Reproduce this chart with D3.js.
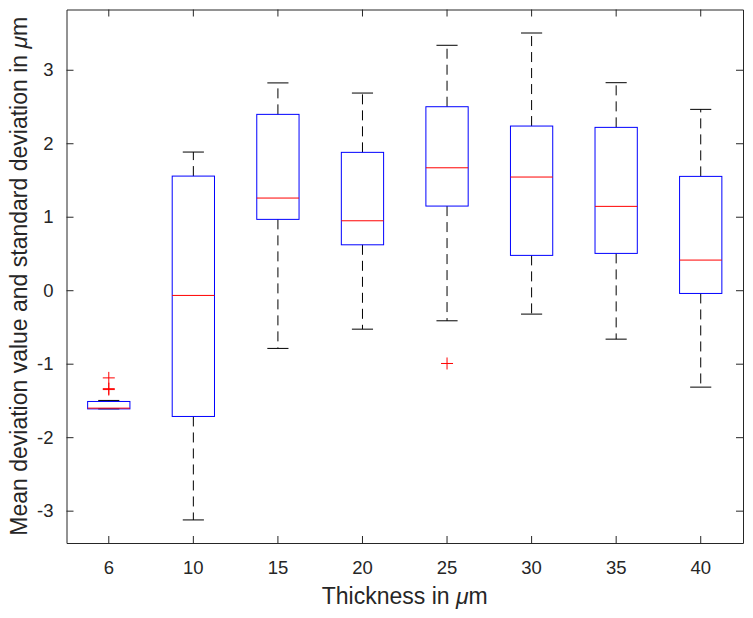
<!DOCTYPE html>
<html>
<head>
<meta charset="utf-8">
<script src="https://cdn.jsdelivr.net/npm/d3@7"></script>
<style>
  body { margin: 0; background: #fff; }
  svg { display: block; }
</style>
</head>
<body>
<div id="chart"></div>
<script>
// Boxplot data (thickness in µm)
const categories = ["6", "10", "15", "20", "25", "30", "35", "40"];
const whiskerLow  = [-1.615, -3.126, -0.792, -0.530, -0.416, -0.325, -0.666, -1.319];
const q1          = [-1.615, -1.718,  0.964,  0.618,  1.145,  0.474,  0.501, -0.044];
const median      = [-1.605, -0.071,  1.254,  0.945,  1.666,  1.540,  1.141,  0.410];
const q3          = [-1.514,  1.553,  2.393,  1.876,  2.497,  2.234,  2.216,  1.549];
const whiskerHigh = [-1.500,  1.880,  2.821,  2.683,  3.333,  3.500,  2.824,  2.461];
const outlierCat  = ["6", "6", "6", "25"];
const outlierVal  = [-1.193, -1.340, -1.352, -0.997];
const yTicks = [-3, -2, -1, 0, 1, 2, 3];

const width = 753, height = 618;
const plot = { left: 66.5, right: 743, top: 9.5, bottom: 543 };
const axisColor = "#262626";
const font = "'Liberation Sans', Arial, sans-serif";

const svg = d3.select("#chart").append("svg")
  .attr("width", width)
  .attr("height", height);

const x = d3.scaleBand().domain(categories).range([plot.left, plot.right]).padding(0);
const y = d3.scaleLinear().domain([-3.44, 3.82]).range([plot.bottom, plot.top]);
const cx = c => x(c) + x.bandwidth() / 2;
const boxW = x.bandwidth() * 0.5;
const capW = boxW * 0.5;

const rows = categories.map((c, i) => ({
  c, lo: whiskerLow[i], q1: q1[i], med: median[i], q3: q3[i], hi: whiskerHigh[i]
}));

// axes (ticks inside, box on)
const fmt = d => String(d);
const styleAxis = g => {
  g.selectAll("path, line").attr("stroke", axisColor).attr("stroke-width", 1);
  g.selectAll("text").attr("fill", axisColor).attr("font-family", font).attr("font-size", 18.5);
};

svg.append("g")
  .attr("transform", `translate(0,${plot.bottom})`)
  .call(d3.axisBottom(x).tickSizeInner(-7).tickSizeOuter(0).tickPadding(17.5))
  .call(styleAxis);

svg.append("g")
  .attr("transform", `translate(0,${plot.top})`)
  .call(d3.axisTop(x).tickSizeInner(-7).tickSizeOuter(0).tickFormat(""))
  .call(styleAxis);

svg.append("g")
  .attr("transform", `translate(${plot.left},0)`)
  .call(d3.axisLeft(y).tickValues(yTicks).tickFormat(fmt).tickSizeInner(-7).tickSizeOuter(0).tickPadding(13))
  .call(styleAxis);

svg.append("g")
  .attr("transform", `translate(${plot.right},0)`)
  .call(d3.axisRight(y).tickValues(yTicks).tickFormat("").tickSizeInner(-7).tickSizeOuter(0))
  .call(styleAxis);

const boxes = svg.append("g").selectAll("g")
  .data(rows)
  .enter()
  .append("g");

// dashed whiskers
boxes.append("line")
  .attr("x1", d => cx(d.c)).attr("x2", d => cx(d.c))
  .attr("y1", d => y(d.q3)).attr("y2", d => y(d.hi))
  .attr("stroke", "#000").attr("stroke-dasharray", "10,6");
boxes.append("line")
  .attr("x1", d => cx(d.c)).attr("x2", d => cx(d.c))
  .attr("y1", d => y(d.q1)).attr("y2", d => y(d.lo))
  .attr("stroke", "#000").attr("stroke-dasharray", "10,6");

// whisker caps
boxes.append("line")
  .attr("x1", d => cx(d.c) - capW / 2).attr("x2", d => cx(d.c) + capW / 2)
  .attr("y1", d => y(d.hi)).attr("y2", d => y(d.hi))
  .attr("stroke", "#000");
boxes.append("line")
  .attr("x1", d => cx(d.c) - capW / 2).attr("x2", d => cx(d.c) + capW / 2)
  .attr("y1", d => y(d.lo)).attr("y2", d => y(d.lo))
  .attr("stroke", "#000");

// boxes
boxes.append("rect")
  .attr("x", d => cx(d.c) - boxW / 2)
  .attr("width", boxW)
  .attr("y", d => y(d.q3))
  .attr("height", d => y(d.q1) - y(d.q3))
  .attr("fill", "none")
  .attr("stroke", "#0000ff");

// medians
boxes.append("line")
  .attr("x1", d => cx(d.c) - boxW / 2).attr("x2", d => cx(d.c) + boxW / 2)
  .attr("y1", d => y(d.med)).attr("y2", d => y(d.med))
  .attr("stroke", "#ff0000");

// outliers as red plus signs
const pts = outlierCat.map((c, i) => ({ c, v: outlierVal[i] }));
svg.append("g").selectAll("path")
  .data(pts)
  .enter()
  .append("path")
  .attr("transform", d => `translate(${cx(d.c)},${y(d.v)})`)
  .attr("d", "M-6,0H6M0,-6V6")
  .attr("stroke", "#ff0000")
  .attr("fill", "none");

// axis labels
svg.append("text")
  .attr("x", (plot.left + plot.right) / 2)
  .attr("y", 604)
  .attr("text-anchor", "middle")
  .attr("font-family", font)
  .attr("font-size", 23)
  .attr("fill", axisColor)
  .call(t => {
    t.append("tspan").text("Thickness in ");
    t.append("tspan").attr("font-style", "italic").text("\u03bc");
    t.append("tspan").text("m");
  });

svg.append("text")
  .attr("transform", `translate(27,${(plot.top + plot.bottom) / 2}) rotate(-90)`)
  .attr("text-anchor", "middle")
  .attr("font-family", font)
  .attr("font-size", 23)
  .attr("fill", axisColor)
  .call(t => {
    t.append("tspan").text("Mean deviation value and standard deviation in ");
    t.append("tspan").attr("font-style", "italic").text("\u03bc");
    t.append("tspan").text("m");
  });
</script>
</body>
</html>
